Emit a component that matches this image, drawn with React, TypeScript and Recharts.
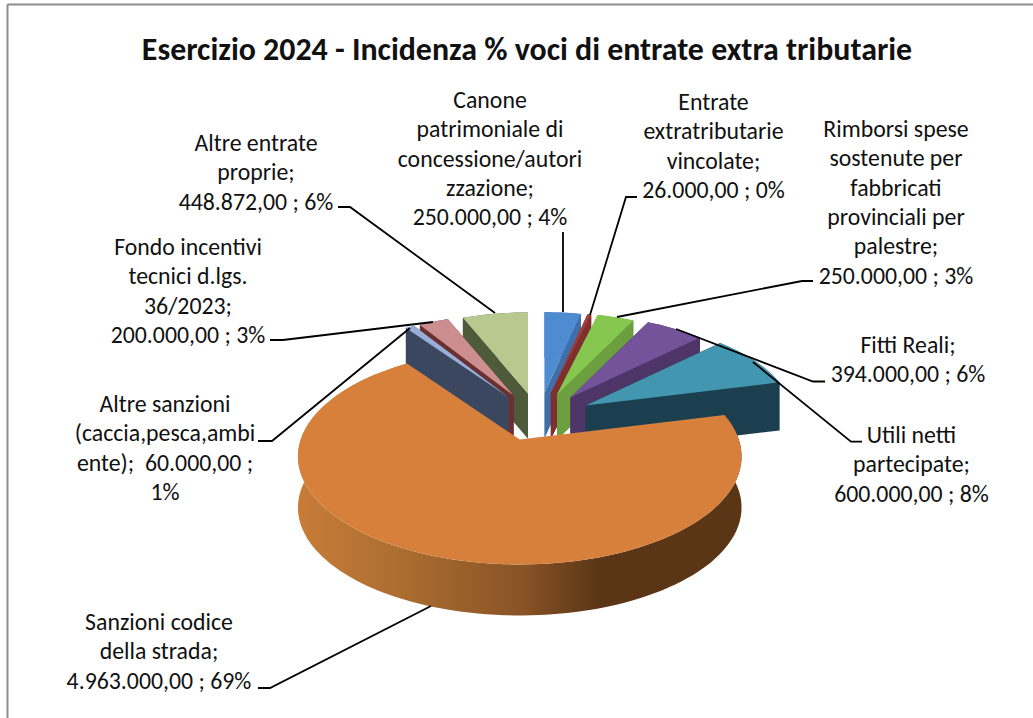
import React from "react";
import { PieChart, Pie } from "recharts";

const TITLE = "Esercizio 2024 - Incidenza % voci di entrate extra tributarie";

// Left half, counter-clockwise from twelve o'clock (drawn back to front)
const leftNames = ["Altre entrate proprie", "Fondo incentivi tecnici d.lgs. 36/2023", "Altre sanzioni (caccia,pesca,ambiente)"];
const leftValues = [448872, 200000, 60000];
const leftFaces = ["#B8C98F", "#CC8E8E", "#98ADD8"];
const leftWalls = ["#4E5B3B", "#6A2F30", "#3A475F"];

// Right half, clockwise from twelve o'clock (drawn back to front)
const rightNames = ["Canone patrimoniale", "Entrate extratributarie vincolate", "Rimborsi spese", "Fitti Reali", "Utili netti partecipate", "Sanzioni codice della strada"];
const rightValues = [250000, 26000, 250000, 394000, 600000, 4963000];
const rightFaces = ["#4F8BD0", "#A13B3A", "#86C84F", "#75539A", "#4296AF", "#D7803B"];
const rightWalls = ["#3F6FA8", "#7F2F2E", "#6B9F3F", "#4E3568", "#1C3F50", "url(#orangeWall)"];

const leftLabels = [
  ["Altre entrate", "proprie;", "448.872,00 ; 6%"],
  ["Fondo incentivi", "tecnici d.lgs.", "36/2023;", "200.000,00 ; 3%"],
  ["Altre sanzioni", "(caccia,pesca,ambi", "ente);  60.000,00 ;", "1%"],
];
const rightLabels = [
  ["Canone", "patrimoniale di", "concessione/autori", "zzazione;", "250.000,00 ; 4%"],
  ["Entrate", "extratributarie", "vincolate;", "26.000,00 ; 0%"],
  ["Rimborsi spese", "sostenute per", "fabbricati", "provinciali per", "palestre;", "250.000,00 ; 3%"],
  ["Fitti Reali;", "394.000,00 ; 6%"],
  ["Utili netti", "partecipate;", "600.000,00 ; 8%"],
  ["Sanzioni codice", "della strada;", "4.963.000,00 ; 69%"],
];

// Label layout: text centre x, first baseline y, leader polyline
const leftLayout = [
  { x: 256, y: 151, leader: "338,207 350,207 495,313" },
  { x: 188, y: 255, leader: "270,340 283,340 433,322" },
  { x: 165, y: 412, leader: "258,441 272,441 410,328" },
];
const rightLayout = [
  { x: 490, y: 108, leader: "563,232 563,312" },
  { x: 713.5, y: 110, leader: "637,197 626,197 590,315" },
  { x: 896, y: 137, leader: "813,281 802,281 617,317" },
  { x: 908, y: 353, leader: "825,381.5 813,381.5 676,329" },
  { x: 911.5, y: 443, leader: "862,441.7 851,441.7 753,362" },
  { x: 159, y: 630, leader: "258,688 270,688 431,606" },
];

const total = [...leftValues, ...rightValues].reduce((a, b) => a + b, 0);
const leftEnd = 90 + (360 * leftValues.reduce((a, b) => a + b, 0)) / total;
const rightEnd = 90 - (360 * rightValues.reduce((a, b) => a + b, 0)) / total;

const toRows = (names: string[], values: number[]) => names.map((name, i) => ({ name, value: values[i] }));
const leftRows = toRows(leftNames, leftValues);
const rightRows = toRows(rightNames, rightValues);

const FONT = "Carlito, Lato, sans-serif";
const CX = 538.5;
const CY = 417;
const RX = 219;
const SQUASH = 105.3 / 219;
const PERSPECTIVE = 0.157;
const EXPLODE_X = 54;
const EXPLODE_Y = 24;
const DEPTH = 51;
const rad = (d: number) => (d * Math.PI) / 180;

function makeSlice(faces: string[], walls: string[]) {
  return function Slice(props: any) {
    const { cx, cy, outerRadius, startAngle, endAngle, midAngle, index } = props;
    const m = rad(midAngle);
    const t = Math.sin(m);
    const s = 0.981 - 0.0558 * t - 0.0377 * t * t;
    const ax = cx + EXPLODE_X * Math.cos(m);
    const ay = cy - EXPLODE_Y * t;
    const depth = DEPTH * s;
    const pt = (deg: number, dy = 0): [number, number] => {
      const a = rad(deg);
      const w = 1 + PERSPECTIVE * Math.sin(a);
      return [ax + (s * outerRadius * Math.cos(a)) / w, ay - (s * outerRadius * SQUASH * Math.sin(a)) / w + dy];
    };
    const n = Math.max(2, Math.ceil(Math.abs(endAngle - startAngle) / 2));
    const arc: number[] = [];
    for (let i = 0; i <= n; i++) arc.push(startAngle + ((endAngle - startAngle) * i) / n);
    const path = (pts: [number, number][]) => "M" + pts.map((p) => p[0].toFixed(1) + "," + p[1].toFixed(1)).join("L") + "Z";
    const cut = (deg: number) => path([[ax, ay], pt(deg), pt(deg, depth), [ax, ay + depth]]);
    const wallPts = [...arc.map((d) => pt(d)), ...arc.slice().reverse().map((d) => pt(d, depth))];
    const facePts: [number, number][] = [[ax, ay], ...arc.map((d) => pt(d))];
    const isGradient = walls[index].startsWith("url");
    return (
      <g>
        {!isGradient && <path d={cut(startAngle)} fill={walls[index]} />}
        {!isGradient && <path d={cut(endAngle)} fill={walls[index]} />}
        <path d={path(wallPts)} fill={walls[index]} />
        <path d={path(facePts)} fill={faces[index]} />
      </g>
    );
  };
}

function makeLabel(labels: string[][], layout: { x: number; y: number; leader: string }[]) {
  return function SliceLabel(props: any) {
    const { index } = props;
    const box = layout[index];
    return (
      <g>
        <polyline points={box.leader} fill="none" stroke="#000" strokeWidth={1.8} />
        <text textAnchor="middle" fontFamily={FONT} fontSize={23.8} fill="#111">
          {labels[index].map((line, i) => (
            <tspan key={i} x={box.x} y={box.y + i * 29.3} xmlSpace="preserve">
              {line}
            </tspan>
          ))}
        </text>
      </g>
    );
  };
}

export default function App() {
  return (
    <div style={{ position: "absolute", left: 0, top: 0, width: 1033, height: 718, background: "#fff" }}>
      <PieChart width={1033} height={718} margin={{ top: 0, right: 0, bottom: 0, left: 0 }}>
        <defs>
          <linearGradient id="orangeWall" x1="0" y1="0" x2="1" y2="0">
            <stop offset="0" stopColor="#C87C38" />
            <stop offset="0.25" stopColor="#A96C30" />
            <stop offset="0.5" stopColor="#8A5426" />
            <stop offset="0.68" stopColor="#5A3516" />
            <stop offset="1" stopColor="#5A3516" />
          </linearGradient>
        </defs>
        <line x1={7.5} y1={4.5} x2={1033} y2={4.5} stroke="#8C8C8C" strokeWidth={2} />
        <line x1={7.5} y1={4.5} x2={7.5} y2={718} stroke="#8C8C8C" strokeWidth={2} />
        <text x={527} y={60} textAnchor="middle" fontFamily={FONT} fontSize={31.9} fontWeight={700} fill="#111">
          {TITLE}
        </text>
        <Pie
          data={leftRows}
          dataKey="value"
          nameKey="name"
          cx={CX}
          cy={CY}
          innerRadius={0}
          outerRadius={RX}
          startAngle={90}
          endAngle={leftEnd}
          stroke="none"
          isAnimationActive={false}
          shape={makeSlice(leftFaces, leftWalls)}
          label={makeLabel(leftLabels, leftLayout)}
          labelLine={false}
        />
        <Pie
          data={rightRows}
          dataKey="value"
          nameKey="name"
          cx={CX}
          cy={CY}
          innerRadius={0}
          outerRadius={RX}
          startAngle={90}
          endAngle={rightEnd}
          stroke="none"
          isAnimationActive={false}
          shape={makeSlice(rightFaces, rightWalls)}
          label={makeLabel(rightLabels, rightLayout)}
          labelLine={false}
        />
      </PieChart>
    </div>
  );
}
